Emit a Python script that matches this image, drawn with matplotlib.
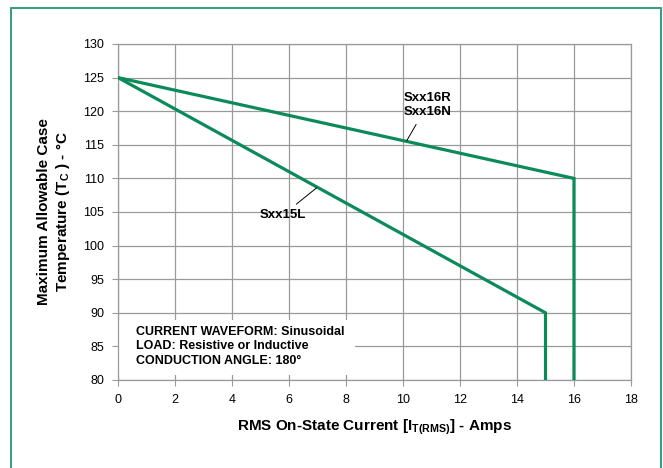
import matplotlib.pyplot as plt
from matplotlib.patches import Rectangle

# Data
current_16 = [0, 16, 16]
temp_16 = [125, 110, 80]
current_15 = [0, 15, 15]
temp_15 = [125, 90, 80]
x_ticks = list(range(0, 19, 2))
y_ticks = list(range(80, 131, 5))

plt.rcParams['font.family'] = ['Liberation Sans', 'DejaVu Sans']
plt.rcParams['mathtext.fontset'] = 'custom'
plt.rcParams['mathtext.bf'] = 'Liberation Sans:bold'
plt.rcParams['mathtext.rm'] = 'Liberation Sans:bold'

green = "#0b8a5a"
grid_c = "#9a9a9a"

fig = plt.figure(figsize=(6.63, 4.68), dpi=100)
ax = fig.add_axes([118 / 663, 1 - 380 / 468, 513 / 663, 336 / 468])

# outer frame
fig.add_artist(Rectangle((11 / 663, -0.02), 650 / 663, 1.02 - 8 / 468,
                         transform=fig.transFigure, fill=False,
                         edgecolor="#1f9a6a", linewidth=1.3))

ax.set_xlim(0, 18)
ax.set_ylim(80, 130)
ax.set_xticks(x_ticks)
ax.set_yticks(y_ticks)
ax.grid(True, color=grid_c, linewidth=0.9, zorder=0)
ax.set_axisbelow(True)
for s in ax.spines.values():
    s.set_color(grid_c)
    s.set_linewidth(0.9)
ax.tick_params(direction="out", length=4, color=grid_c, labelsize=9, pad=6)

ax.plot(current_16, temp_16, color=green, linewidth=2.3, zorder=3, solid_joinstyle="miter")
ax.plot(current_15, temp_15, color=green, linewidth=2.3, zorder=3, solid_joinstyle="miter")

# white box behind the conditions text
ax.add_patch(Rectangle((0, 80.75), 8.3, 8.15, facecolor="white", edgecolor="none", zorder=1))
ax.text(0.63, 88.1, "CURRENT WAVEFORM: Sinusoidal\nLOAD: Resistive or Inductive\nCONDUCTION ANGLE: 180°",
        fontsize=9, fontweight="bold", va="top", ha="left", linespacing=1.3, zorder=4)

# curve labels
ax.annotate("Sxx16R\nSxx16N", xy=(10.13, 115.6), xytext=(10.85, 120.9),
            ha="center", va="center", fontsize=9.5, fontweight="bold", linespacing=1.2,
            arrowprops=dict(arrowstyle="-", color="black", lw=0.7, shrinkA=3, shrinkB=0))
ax.annotate("Sxx15L", xy=(6.97, 108.6), xytext=(5.8, 104.6),
            ha="center", va="center", fontsize=9.5, fontweight="bold",
            arrowprops=dict(arrowstyle="-", color="black", lw=0.7, shrinkA=2, shrinkB=0))

ax.set_xlabel(r"RMS On-State Current [I$_{\mathbf{T(RMS)}}$] - Amps", fontsize=11, fontweight="bold", labelpad=8)
ax.set_ylabel("Maximum Allowable Case\n" + r"Temperature (T$_{\mathbf{C}}$ ) - °C", fontsize=11,
              fontweight="bold", labelpad=8, linespacing=1.2)

fig.savefig("out.png", dpi=100)
